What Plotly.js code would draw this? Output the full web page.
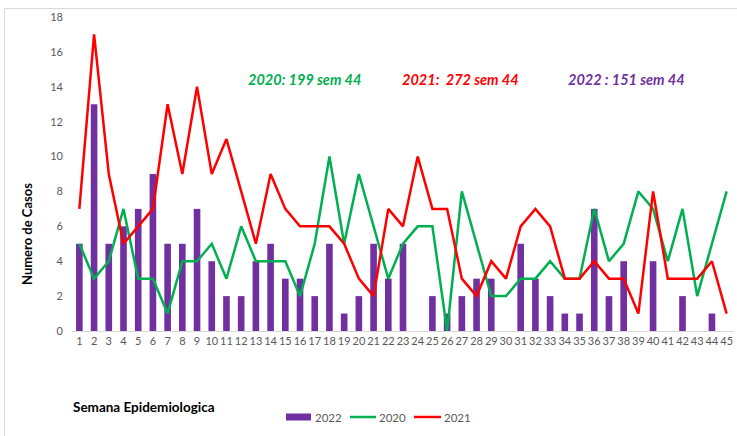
<!DOCTYPE html>
<html>
<head>
<meta charset="utf-8">
<script src="https://cdn.plot.ly/plotly-3.0.1.min.js"></script>
<style>
html,body{margin:0;padding:0;background:#fff;}
#chart{width:737px;height:436px;}
</style>
</head>
<body>
<div id="chart"></div>
<script>
var weeks = [];
for (var i = 1; i <= 45; i++) weeks.push(i);
var weekLabels = weeks.map(String);

var cases2022 = [5,13,5,6,7,9,5,5,7,4,2,2,4,5,3,3,2,5,1,2,5,3,5,0,2,1,2,3,3,0,5,3,2,1,1,7,2,4,0,4,0,2,0,1,0];
var cases2020 = [5,3,4,7,3,3,1,4,4,5,3,6,4,4,4,2,5,10,5,9,6,3,5,6,6,0,8,5,2,2,3,3,4,3,3,7,4,5,8,7,4,7,2,5,8];
var cases2021 = [7,17,9,5,6,7,13,9,14,9,11,8,5,9,7,6,6,6,5,3,2,7,6,10,7,7,3,2,4,3,6,7,6,3,3,4,3,3,1,8,3,3,3,4,1];

var seriesNames = ['2022','2020','2021'];
var summaryTexts = ['2020: 199 sem 44','2021:  272 sem 44','2022 : 151 sem 44'];
var yTicks = [0,2,4,6,8,10,12,14,16,18];

var purple = '#7030A0', green = '#00B050', red = '#FF0000';
var W = 737, H = 436, mL = 72, mR = 3, mT = 17, mB = 105;
var pw = W - mL - mR, ph = H - mT - mB;
function px(x){ return (x - mL) / pw; }
function py(y){ return (H - mB - y) / ph; }

var traces = [
  {type:'bar', x:weeks, y:cases2022, name:seriesNames[0], marker:{color:purple}, width:0.45},
  {type:'scatter', mode:'lines', x:weeks, y:cases2020, name:seriesNames[1], line:{color:green, width:2.5}},
  {type:'scatter', mode:'lines', x:weeks, y:cases2021, name:seriesNames[2], line:{color:red, width:2.5}}
];

function ann(x, y, text, size, color, xa, extra){
  var a = {xref:'paper', yref:'paper', x:px(x), y:py(y), text:text, showarrow:false,
           xanchor:xa || 'center', yanchor:'middle', font:{size:size, color:color}};
  if (extra) for (var k in extra) a[k] = extra[k];
  return a;
}

var legendY = 417;
var layout = {
  width: W, height: H,
  margin: {l:mL, r:mR, t:mT, b:mB, pad:0},
  paper_bgcolor:'#ffffff', plot_bgcolor:'#ffffff',
  font:{family:'Lato, "Open Sans", sans-serif', color:'#595959', size:11},
  showlegend:false,
  xaxis:{range:[0.5,45.5], tickmode:'array', tickvals:weeks, ticktext:weekLabels, tickangle:0,
         showgrid:false, zeroline:false, showline:true, linecolor:'#d9d9d9', linewidth:1,
         ticks:'', tickfont:{size:11, color:'#595959'}, fixedrange:true},
  yaxis:{range:[0,18], tickmode:'array', tickvals:yTicks, showgrid:false, zeroline:false,
         showline:false, ticks:'', ticklabelstandoff:8, tickfont:{size:11, color:'#595959'}, fixedrange:true},
  annotations:[
    ann(27, 234, '<b>Numero de Casos</b>', 13, '#000000', 'center', {textangle:-90}),
    ann(71, 406.5, '<b>Semana Epidemiologica</b>', 13.5, '#000000', 'left'),
    ann(304.5, 80, '<b><i>'+summaryTexts[0]+'</i></b>', 14.5, green),
    ann(460.5, 80, '<b><i>'+summaryTexts[1]+'</i></b>', 14.5, red),
    ann(626.5, 80, '<b><i>'+summaryTexts[2]+'</i></b>', 14.5, purple),
    ann(313, legendY, seriesNames[0], 11.5, '#595959', 'left'),
    ann(377, legendY, seriesNames[1], 11.5, '#595959', 'left'),
    ann(442, legendY, seriesNames[2], 11.5, '#595959', 'left')
  ],
  shapes:[
    {type:'line', xref:'paper', yref:'paper', x0:px(4.5), x1:px(4.5), y0:py(436), y1:py(8.5), line:{color:'#d9d9d9', width:1}},
    {type:'line', xref:'paper', yref:'paper', x0:px(4.5), x1:px(737), y0:py(8.5), y1:py(8.5), line:{color:'#d9d9d9', width:1}},
    {type:'rect', xref:'paper', yref:'paper', x0:px(286), x1:px(311), y0:py(413.5), y1:py(420.5), fillcolor:purple, line:{width:0}},
    {type:'line', xref:'paper', yref:'paper', x0:px(350), x1:px(376), y0:py(legendY), y1:py(legendY), line:{color:green, width:2.5}},
    {type:'line', xref:'paper', yref:'paper', x0:px(414), x1:px(441), y0:py(legendY), y1:py(legendY), line:{color:red, width:2.5}}
  ]
};

Plotly.newPlot('chart', traces, layout, {displayModeBar:false, staticPlot:true});
</script>
</body>
</html>
